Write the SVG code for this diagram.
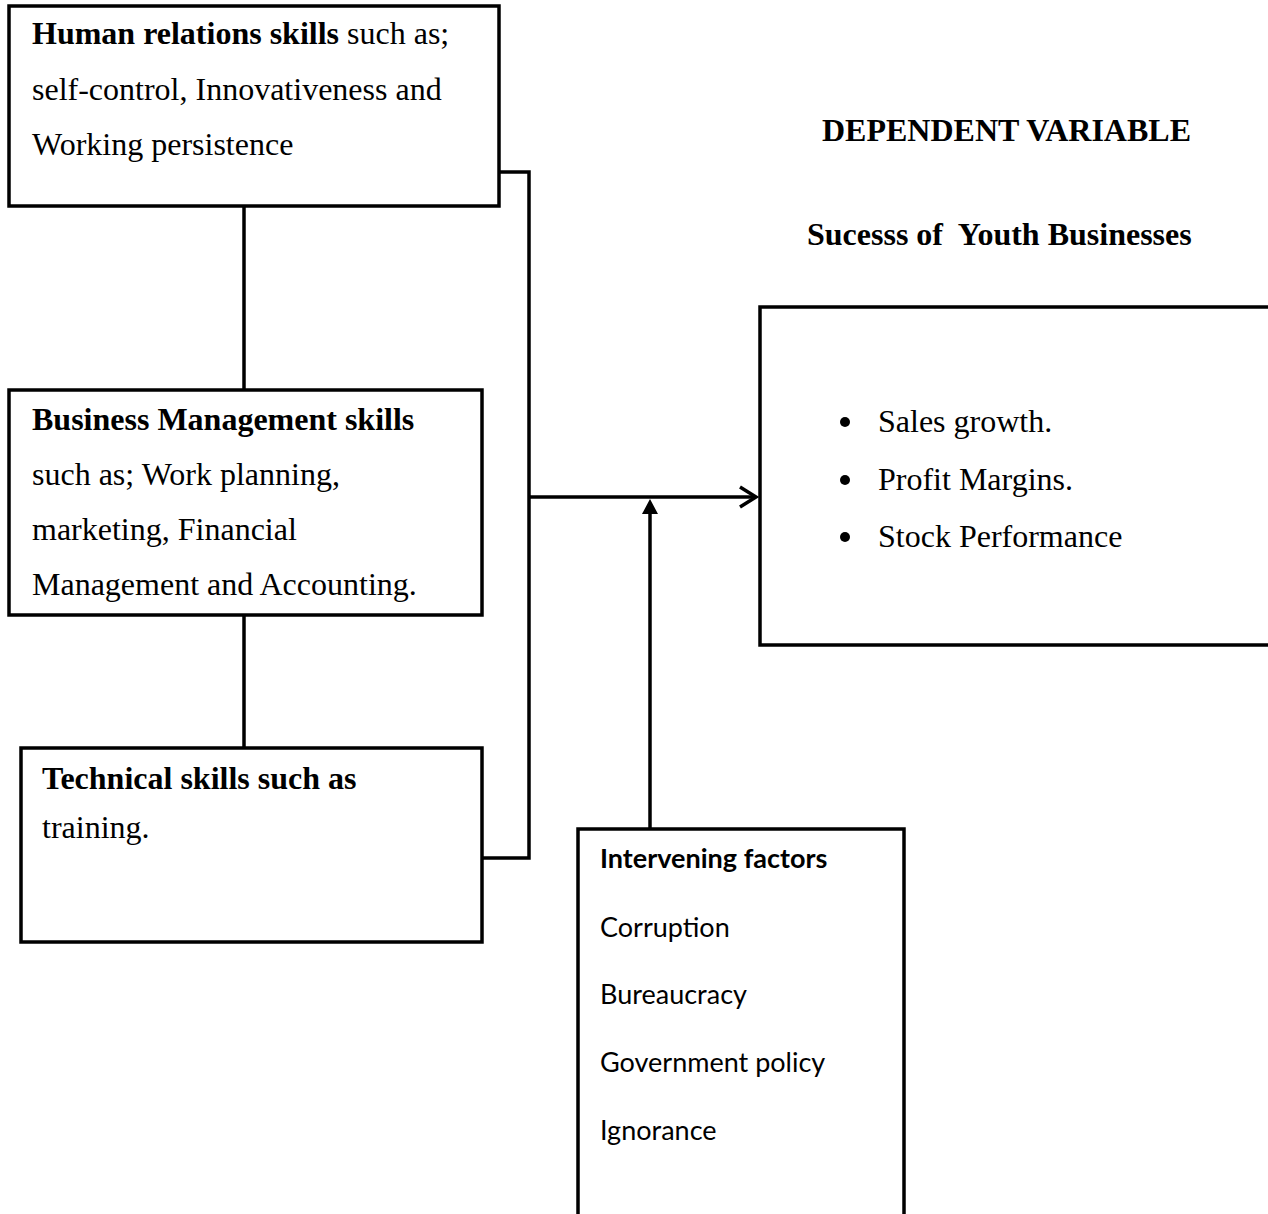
<svg xmlns="http://www.w3.org/2000/svg" width="1268" height="1214" viewBox="0 0 1268 1214">
<style>
.box{fill:#fff;stroke:#000;stroke-width:3.5}
.ln{fill:none;stroke:#000;stroke-width:3.5}
.t{font-family:"Liberation Serif","Times New Roman",serif;font-size:32px;fill:#000}
.b{font-weight:bold}
.s{font-family:Lato,"Noto Sans",sans-serif;font-size:27px;fill:#000}
</style>
<rect width="1268" height="1214" fill="#fff"/>
<g id="connectors">
<polyline class="ln" points="499,172 529,172 529,858 482,858"/>
<line class="ln" x1="244" y1="206" x2="244" y2="390"/>
<line class="ln" x1="244" y1="615" x2="244" y2="748"/>
<line class="ln" x1="529" y1="497" x2="755" y2="497"/>
<polyline class="ln" points="740,487 756,497 740,507"/>
<line class="ln" x1="650" y1="829" x2="650" y2="510"/>
<polygon points="650,499 642,514 658,514" fill="#000"/>
</g>
<g id="human-relations">
<rect class="box" x="9" y="6" width="490" height="200"/>
<text class="t" x="32" y="44"><tspan class="b">Human relations skills</tspan> such as;</text>
<text class="t" x="32" y="100">self-control, Innovativeness and</text>
<text class="t" x="32" y="155">Working persistence</text>
</g>
<g id="business-management">
<rect class="box" x="9" y="390" width="473" height="225"/>
<text class="t b" x="32" y="430">Business Management skills</text>
<text class="t" x="32" y="485">such as; Work planning,</text>
<text class="t" x="32" y="540">marketing, Financial</text>
<text class="t" x="32" y="595">Management and Accounting.</text>
</g>
<g id="technical">
<rect class="box" x="21" y="748" width="461" height="194"/>
<text class="t b" x="42" y="789">Technical skills such as</text>
<text class="t" x="42" y="838">training.</text>
</g>
<g id="dependent">
<text class="t b" x="822" y="141">DEPENDENT VARIABLE</text>
<text class="t b" x="807" y="245" xml:space="preserve">Sucesss of  Youth Businesses</text>
<rect class="box" x="760" y="307" width="520" height="338"/>
<circle cx="845" cy="422" r="5"/>
<circle cx="845" cy="480" r="5"/>
<circle cx="845" cy="537" r="5"/>
<text class="t" x="878" y="432">Sales growth.</text>
<text class="t" x="878" y="490">Profit Margins.</text>
<text class="t" x="878" y="547">Stock Performance</text>
</g>
<g id="intervening">
<rect class="box" x="578" y="829" width="326" height="400"/>
<text class="s" x="600" y="868" font-weight="bold">Intervening factors</text>
<text class="s" x="600" y="937">Corruption</text>
<text class="s" x="600" y="1004">Bureaucracy</text>
<text class="s" x="600" y="1072">Government policy</text>
<text class="s" x="600" y="1140">Ignorance</text>
</g>
</svg>
